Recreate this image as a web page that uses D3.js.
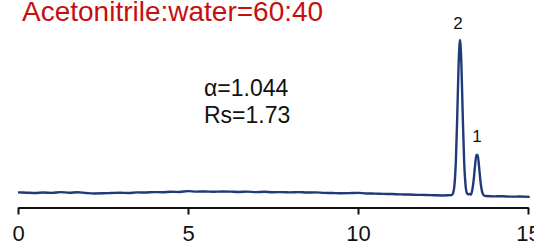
<!DOCTYPE html>
<html>
<head>
<meta charset="utf-8">
<script src="https://cdn.jsdelivr.net/npm/d3@7"></script>
<style>
  body { margin: 0; background: #fff; }
  svg { display: block; font-family: "Liberation Sans", Arial, sans-serif; }
</style>
</head>
<body>
<div class="chart"></div>
<script>
// retention time (min) and detector signal
const times = [
  0, 0.25, 0.5, 0.75, 1, 1.25, 1.5, 1.75, 2, 2.25, 2.5, 2.75, 3, 3.25, 3.5, 3.75,
  4, 4.25, 4.5, 4.75, 5, 5.25, 5.5, 5.75, 6, 6.25, 6.5, 6.75, 7, 7.25, 7.5, 7.75,
  8, 8.25, 8.5, 8.75, 9, 9.25, 9.5, 9.75, 10, 10.25, 10.5, 10.75, 11, 11.25, 11.5, 11.75,
  12, 12.25, 12.5, 12.76, 12.8, 12.84, 12.88, 12.92, 12.96, 13.0, 13.04, 13.08, 13.12, 13.16,
  13.2, 13.24, 13.28, 13.32, 13.36, 13.4, 13.44, 13.48, 13.52, 13.56, 13.6, 13.64, 13.68, 13.72,
  13.76, 14.0, 14.25, 14.5, 14.75, 15.05
];
const signal = [
  0.4, 0.2, 0.0, 0.3, 0.1, 0.6, 0.2, 0.5, 0.0, -0.3, -0.2, 0.0, 0.2, 0.0, 0.4, 0.3,
  0.6, 0.5, 0.8, 0.7, 1.2, 0.9, 1.0, 0.8, 1.0, 0.9, 0.7, 0.9, 0.6, 0.8, 0.5, 0.6,
  0.4, 0.6, 0.3, 0.4, 0.1, 0.0, -0.2, -0.1, 0.1, -0.3, -0.4, -0.6, -0.7, -0.9, -1.0, -1.2,
  -1.3, -1.5, -1.6, -1.3, 0.1, 5.9, 21.8, 51.2, 84.8, 100, 84.8, 51.2, 21.8, 5.9,
  0.1, -0.8, -0.6, -1.0, 1.8, 8.1, 17.3, 24.9, 24.9, 17.3, 8.1, 1.8, -1.0, -1.8,
  -2.0, -2.2, -2.1, -2.4, -2.3, -2.5
];
const xTicks = [0, 5, 10, 15];
const peakLabels = ["2", "1"];
const peakTimes = [13.0, 13.5];
const peakHeights = [100, 26];
const title = "Acetonitrile:water=60:40";
const notes = ["α=1.044", "Rs=1.73"];

const width = 534, height = 244;

const svg = d3.select(".chart")
  .append("svg")
  .attr("width", width)
  .attr("height", height);

const x = d3.scaleLinear().domain([0, 15]).range([18, 528]);
const y = d3.scaleLinear().domain([0, 100]).range([193, 40]);

const points = times.map((t, i) => [t, signal[i]]);

const line = d3.line()
  .x(d => x(d[0]))
  .y(d => y(d[1]))
  .curve(d3.curveMonotoneX);

svg.append("path")
  .datum(points)
  .attr("d", line)
  .attr("fill", "none")
  .attr("stroke", "#1f3a78")
  .attr("stroke-width", 2.4)
  .attr("stroke-linejoin", "round");

const axis = svg.append("g")
  .attr("transform", "translate(0,207.5)")
  .call(d3.axisBottom(x).tickValues(xTicks).tickSize(7).tickSizeOuter(0).tickPadding(11)
    .tickFormat(d3.format("d")));

axis.select(".domain").attr("stroke", "#111").attr("stroke-width", 2);
axis.selectAll(".tick line").attr("stroke", "#111").attr("stroke-width", 2);
axis.selectAll(".tick text")
  .attr("fill", "#111")
  .style("font-size", "22px")
  .style("font-family", "'Liberation Sans', Arial, sans-serif");

svg.append("text")
  .attr("x", 22)
  .attr("y", 20.5)
  .attr("fill", "#c4100f")
  .style("font-size", "28px")
  .text(title);

svg.selectAll(".note")
  .data(notes)
  .join("text")
  .attr("class", "note")
  .attr("x", 204)
  .attr("y", (d, i) => 96 + i * 27)
  .attr("fill", "#111")
  .style("font-size", "23px")
  .text(d => d);

svg.selectAll(".peak")
  .data(peakLabels)
  .join("text")
  .attr("class", "peak")
  .attr("x", (d, i) => x(peakTimes[i]) - (i === 0 ? 2 : 0))
  .attr("y", (d, i) => y(peakHeights[i]) - 11)
  .attr("text-anchor", "middle")
  .attr("fill", "#111")
  .style("font-size", "17px")
  .text(d => d);
</script>
</body>
</html>
